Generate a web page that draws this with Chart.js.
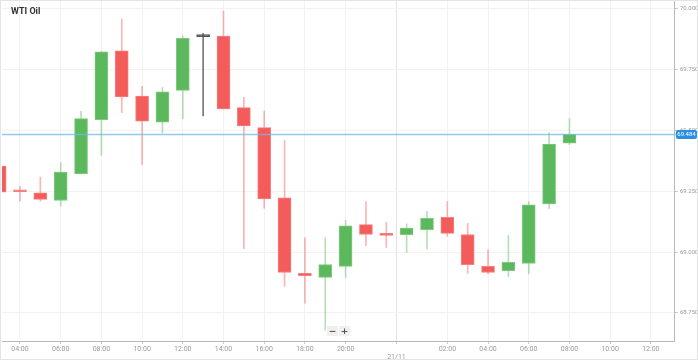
<!DOCTYPE html>
<html>
<head>
<meta charset="utf-8">
<script src="https://cdn.jsdelivr.net/npm/chart.js@4.4.0/dist/chart.umd.min.js"></script>
<style>
    html, body { margin: 0; padding: 0; background: #fff; }
    #wrap { position: relative; width: 698px; height: 360px; }
    #zoomBtns { position: absolute; left: 327px; top: 326px; display: flex; gap: 1px; }
    #zoomBtns span {
        display: block; width: 11px; height: 10px; background: #f0f0f0; color: #555;
        font: bold 9px/10px 'DejaVu Sans', sans-serif; text-align: center;
    }
</style>
</head>
<body>
<div id="wrap">
    <canvas id="oilChart" width="698" height="360"></canvas>
    <div id="zoomBtns"><span>−</span><span>+</span></div>
</div>
<script>
// hourly candles, slot = position on the x axis (23:00 break is skipped)
const slots = [0, 1, 2, 3, 4, 5, 6, 7, 8, 9, 10, 11, 12, 13, 14, 15, 16, 17, 18, 19, 20, 21, 22, 23, 24, 25, 26, 27, 28];
const times = ['03:00', '04:00', '05:00', '06:00', '07:00', '08:00', '09:00', '10:00', '11:00', '12:00',
    '13:00', '14:00', '15:00', '16:00', '17:00', '18:00', '19:00', '20:00', '21:00', '22:00',
    '00:00', '01:00', '02:00', '03:00', '04:00', '05:00', '06:00', '07:00', '08:00'];
const opens = [69.354, 69.252, 69.244, 69.212, 69.322, 69.545, 69.828, 69.642, 69.534, 69.665,
    69.886, 69.889, 69.594, 69.512, 69.223, 68.912, 68.896, 68.941, 69.113, 69.077,
    69.071, 69.092, 69.143, 69.072, 68.941, 68.923, 68.953, 69.198, 69.448];
const highs = [69.360, 69.270, 69.308, 69.368, 69.579, 69.826, 69.959, 69.682, 69.677, 69.889,
    69.900, 69.992, 69.637, 69.580, 69.460, 69.058, 69.058, 69.130, 69.208, 69.123,
    69.116, 69.168, 69.208, 69.118, 69.009, 69.068, 69.208, 69.490, 69.549];
const lows = [69.240, 69.209, 69.209, 69.189, 69.320, 69.398, 69.574, 69.361, 69.490, 69.549,
    69.560, 69.588, 69.014, 69.180, 68.859, 68.790, 68.679, 68.896, 69.026, 69.019,
    68.999, 69.013, 69.065, 68.912, 68.910, 68.899, 68.910, 69.178, 69.442];
const closes = [69.246, 69.248, 69.216, 69.329, 69.549, 69.824, 69.638, 69.538, 69.659, 69.879,
    69.886, 69.589, 69.519, 69.219, 68.916, 68.903, 68.948, 69.108, 69.072, 69.068,
    69.099, 69.139, 69.077, 68.948, 68.916, 68.958, 69.194, 69.444, 69.484];

const yTicks = [68.75, 69.0, 69.25, 69.5, 69.75, 70.0];
const xTickSlots = [1, 3, 5, 7, 9, 11, 13, 15, 17, 19.5, 22, 24, 26, 28, 30, 32];
const xTickLabels = ['04:00', '06:00', '08:00', '10:00', '12:00', '14:00', '16:00', '18:00', '20:00',
    '21/11', '02:00', '04:00', '06:00', '08:00', '10:00', '12:00'];
const dateSlot = 19.5;

const upColor = '#5cb85c', downColor = '#f45b5b', flatColor = '#555555';

function candleKind(i) {
    if (closes[i] > opens[i]) return 'up';
    if (closes[i] < opens[i]) return 'down';
    return 'flat';
}
const bodyColors = slots.map((s, i) => ({ up: upColor, down: downColor, flat: flatColor })[candleKind(i)]);
const bodyBorders = slots.map((s, i) => ({ up: '#7fc97f', down: '#f77e7e', flat: flatColor })[candleKind(i)]);
const wickColors = slots.map((s, i) => ({ up: 'rgba(92,184,92,0.45)', down: 'rgba(244,91,91,0.45)', flat: '#777' })[candleKind(i)]);

const lastClose = closes[closes.length - 1];

const decorPlugin = {
    id: 'decor',
    afterDatasetsDraw(chart) {
        const { ctx, chartArea, scales } = chart;
        const y = scales.y.getPixelForValue(lastClose);
        ctx.save();
        ctx.strokeStyle = 'rgba(110,185,230,0.75)';
        ctx.lineWidth = 1.5;
        ctx.beginPath();
        ctx.moveTo(chartArea.left, y);
        ctx.lineTo(chartArea.right + 2, y);
        ctx.stroke();
        ctx.restore();
    },
    afterDraw(chart) {
        const { ctx, chartArea, scales, width, height } = chart;
        ctx.save();
        // outer frame
        ctx.strokeStyle = '#e4e4e4';
        ctx.lineWidth = 1;
        ctx.strokeRect(0.5, 0.5, width - 1, height - 1);
        // title
        ctx.fillStyle = '#333';
        ctx.font = 'bold 9px Roboto, "Liberation Sans", sans-serif';
        ctx.textBaseline = 'alphabetic';
        ctx.fillText('WTI Oil', 11, 14);
        // price badge
        const y = scales.y.getPixelForValue(lastClose);
        const bx = chartArea.right + 2, bw = 21, bh = 9;
        ctx.fillStyle = '#2b8fe3';
        ctx.beginPath();
        ctx.roundRect(bx, y - bh / 2, bw, bh, 2);
        ctx.fill();
        ctx.fillStyle = '#fff';
        ctx.font = '6px Roboto, sans-serif';
        ctx.textAlign = 'center';
        ctx.textBaseline = 'middle';
        ctx.fillText(lastClose.toFixed(3), bx + bw / 2, y + 0.5);
        ctx.restore();
    }
};

const canvas = document.getElementById('oilChart');
new Chart(canvas, {
    type: 'bar',
    data: {
        datasets: [
            {
                label: 'Body',
                data: slots.map((s, i) => ({ x: s, y: [opens[i], closes[i]] })),
                backgroundColor: bodyColors,
                borderColor: bodyBorders,
                borderWidth: 1,
                borderSkipped: false,
                barThickness: 13,
                minBarLength: 2,
                grouped: false,
                order: 0
            },
            {
                label: 'Wick',
                data: slots.map((s, i) => ({ x: s, y: [lows[i], highs[i]] })),
                backgroundColor: wickColors,
                borderWidth: 0,
                barThickness: 1,
                grouped: false,
                order: 1
            }
        ]
    },
    options: {
        responsive: false,
        animation: false,
        layout: { padding: { left: 2, top: 0, right: 0, bottom: 0 } },
        plugins: {
            legend: { display: false },
            tooltip: { enabled: false }
        },
        scales: {
            x: {
                type: 'linear',
                min: 0.1155,
                max: 33.138,
                offset: false,
                afterBuildTicks: scale => { scale.ticks = xTickSlots.map(v => ({ value: v })); },
                afterFit: scale => {
                    scale.height = 19;
                    scale.paddingLeft = 0;
                    scale.paddingRight = 0;
                },
                grid: {
                    offset: false,
                    color: ctx => (ctx.tick && ctx.tick.value === dateSlot) ? '#e2e2e2' : '#f2f2f2',
                    tickColor: '#c8c8c8',
                    tickLength: 3
                },
                border: { display: true, color: '#b8b8b8' },
                ticks: {
                    autoSkip: false,
                    maxRotation: 0,
                    padding: 1,
                    color: '#9a9a9a',
                    font: { family: 'Roboto', size: 7 },
                    callback: (v, i) => xTickLabels[i] === '21/11' ? ['', xTickLabels[i]] : xTickLabels[i]
                }
            },
            y: {
                position: 'right',
                min: 68.634,
                max: 70.037,
                afterBuildTicks: scale => { scale.ticks = yTicks.map(v => ({ value: v })); },
                afterFit: scale => {
                    scale.width = 24;
                    scale.paddingTop = 0;
                    scale.paddingBottom = 0;
                },
                grid: { color: '#f2f2f2', tickColor: '#c8c8c8', tickLength: 4 },
                border: { display: true, color: '#b8b8b8' },
                ticks: {
                    padding: 2,
                    color: '#9a9a9a',
                    font: { family: 'Roboto', size: 6 },
                    callback: v => v.toFixed(3)
                }
            }
        }
    },
    plugins: [decorPlugin]
});
</script>
</body>
</html>
